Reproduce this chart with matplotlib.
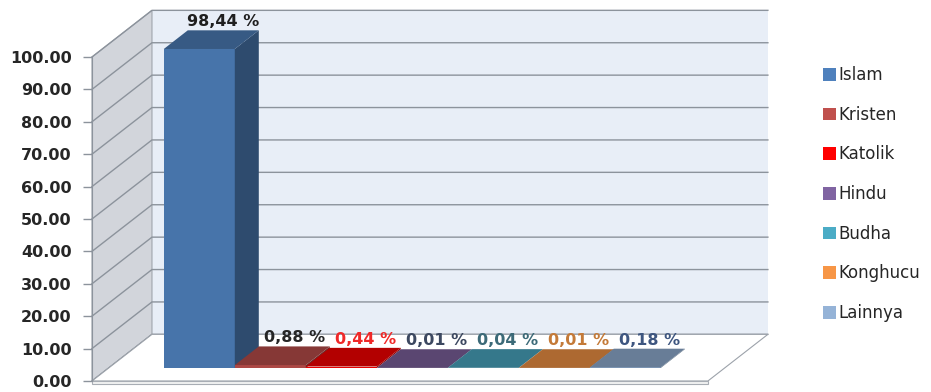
import numpy as np
import matplotlib
matplotlib.use('Agg')
import matplotlib.pyplot as plt
from matplotlib.patches import Polygon, Patch
from matplotlib.colors import to_rgb

plt.rcParams['font.family'] = ['DejaVu Sans']

# Data
categories = ['Islam', 'Kristen', 'Katolik', 'Hindu', 'Budha', 'Konghucu', 'Lainnya']
percent = [98.44, 0.88, 0.44, 0.01, 0.04, 0.01, 0.18]
y_ticks = list(range(0, 101, 10))

bar_colors = ['#4F81BD', '#C0504D', '#FF0000', '#8064A2', '#4BACC6', '#F79646', '#95B3D7']
label_colors = ['#1F1F1F', '#262626', '#F02828', '#3C4860', '#3C6A78', '#C47A38', '#3E5680']

# pseudo 3D geometry (data units)
PX_X, PX_Y = 71.0, 3.24       # pixels per category / per percent point
DX, DY = 0.845, 14.4          # depth offset of the back wall
D0, D1 = 0.28, 0.68           # bar front / back, as fraction of depth
FLOOR_L, FLOOR_R = -0.775, 7.9
GRID = '#8C939C'


def shade(c, f):
    r, g, b = to_rgb(c)
    return (r * f, g * f, b * f)


fig = plt.figure(figsize=(9.31, 3.92), dpi=100)
ax = fig.add_axes([0, 0, 1, 1])
ax.set_xlim(-147 / PX_X, 784 / PX_X)
ax.set_ylim(-11 / PX_Y, 381 / PX_Y)

# walls and floor
ax.add_patch(Polygon([(FLOOR_L + DX, DY), (FLOOR_R + DX, DY), (FLOOR_R + DX, 100 + DY),
                      (FLOOR_L + DX, 100 + DY)], fc='#E8EEF7', ec='none', zorder=1))
ax.add_patch(Polygon([(FLOOR_L, 0), (FLOOR_L + DX, DY), (FLOOR_L + DX, 100 + DY), (FLOOR_L, 100)],
                     fc='#D2D5DB', ec='#A0A5AD', lw=0.8, zorder=1))
for t in y_ticks:
    ax.plot([FLOOR_L, FLOOR_L + DX, FLOOR_R + DX], [t, t + DY, t + DY], color=GRID, lw=1, zorder=1.5)
ax.add_patch(Polygon([(FLOOR_L, 0), (FLOOR_R, 0), (FLOOR_R + DX, DY), (FLOOR_L + DX, DY)],
                     fc='white', ec='#9CA2AA', lw=0.8, zorder=2))
ax.add_patch(Polygon([(FLOOR_L, 0), (FLOOR_R, 0), (FLOOR_R, -0.9), (FLOOR_L, -0.9)],
                     fc='#F2F2F2', ec='#A8ADB4', lw=0.8, zorder=2))

# bars: front face with ax.bar, side and top faces as polygons
b0, b1 = D0 * DY, D1 * DY
x = np.arange(len(categories))
for i, (v, c) in enumerate(zip(percent, bar_colors)):
    z = 3 + i * 0.1
    ax.bar(x[i] + D0 * DX, v, width=1, bottom=b0, align='edge', color=shade(c, 0.9),
           edgecolor='none', zorder=z)
    side = [(x[i] + 1 + D0 * DX, b0), (x[i] + 1 + D1 * DX, b1),
            (x[i] + 1 + D1 * DX, b1 + v), (x[i] + 1 + D0 * DX, b0 + v)]
    ax.add_patch(Polygon(side, fc=shade(c, 0.58), ec='none', zorder=z))
    top = [(x[i] + D0 * DX, b0 + v), (x[i] + 1 + D0 * DX, b0 + v),
           (x[i] + 1 + D1 * DX, b1 + v), (x[i] + D1 * DX, b1 + v)]
    ax.add_patch(Polygon(top, fc=shade(c, 0.7), ec='none', zorder=z))

for i, v in enumerate(percent):
    txt = f'{v:.2f}'.replace('.', ',') + ' %'
    ax.annotate(txt, (x[i] + 0.5 + D1 * DX, v + b1), xytext=(0, 3), textcoords='offset points',
                ha='center', va='baseline', fontsize=11.5, fontweight='bold',
                color=label_colors[i], zorder=10)

# value axis on the front edge of the left wall
ax.spines['left'].set_position(('data', FLOOR_L))
ax.spines['left'].set_bounds(0, 100)
ax.spines['left'].set_color(GRID)
for s in ['right', 'top', 'bottom']:
    ax.spines[s].set_visible(False)
ax.set_xticks([])
ax.set_yticks(y_ticks)
ax.set_yticklabels([f'{t:.2f}' for t in y_ticks])
ax.tick_params(axis='y', length=6.5, width=1, color=GRID, pad=8, labelsize=11.5,
               labelcolor='#262626')
for lbl in ax.get_yticklabels():
    lbl.set_fontweight('bold')
ax.patch.set_visible(False)

handles = [Patch(facecolor=c, edgecolor='none') for c in bar_colors]
fig.legend(handles, categories, loc='upper left', bbox_to_anchor=(823 / 931, 1 - 66 / 392),
           frameon=False, fontsize=12, handlelength=0.8, handleheight=0.8, handletextpad=0.15,
           labelspacing=1.3, borderaxespad=0, borderpad=0, labelcolor='#262626')

fig.savefig('out.png', dpi=100)
